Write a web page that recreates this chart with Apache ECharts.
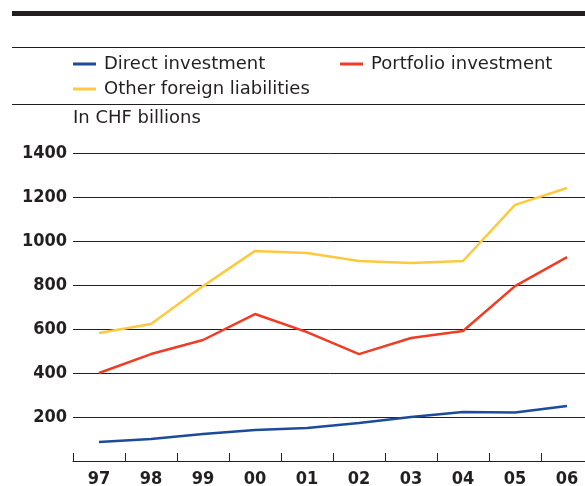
<!DOCTYPE html>
<html>
<head>
<meta charset="utf-8">
<script src="https://cdn.jsdelivr.net/npm/echarts@6/dist/echarts.min.js"></script>
<style>
  html, body { margin: 0; padding: 0; background: #fff; }
  #main { width: 585px; height: 486px; }
</style>
</head>
<body>
<div id="main"></div>
<script>
var years = ['97', '98', '99', '00', '01', '02', '03', '04', '05', '06'];
var direct = [86, 100, 123, 141, 150, 173, 200, 223, 220, 250];
var portfolio = [400, 486, 550, 668, 586, 486, 559, 591, 795, 927];
var other = [582, 623, 795, 955, 945, 909, 900, 909, 1164, 1241];

var font = '"DejaVu Sans Condensed", "DejaVu Sans", sans-serif';
var textFont = '"DejaVu Sans", sans-serif';
var myChart = echarts.init(document.getElementById('main'));

function legendAt(name, left, top) {
  return {
    data: [name],
    left: left,
    top: top,
    icon: 'rect',
    itemWidth: 23,
    itemHeight: 3,
    itemGap: 0,
    padding: 0,
    textStyle: { fontFamily: textFont, fontSize: 18, color: '#231f20', padding: [0, 0, 0, 3] },
    selectedMode: false
  };
}

var option = {
  animation: false,
  textStyle: { fontFamily: font },
  legend: [
    legendAt('Direct investment', 73, 55),
    legendAt('Portfolio investment', 340, 55),
    legendAt('Other foreign liabilities', 73, 80)
  ],
  graphic: [
    { type: 'rect', shape: { x: 12, y: 11, width: 580, height: 5 }, style: { fill: '#231f20' } },
    { type: 'rect', shape: { x: 12, y: 47, width: 580, height: 1 }, style: { fill: '#231f20' } },
    { type: 'rect', shape: { x: 12, y: 104, width: 580, height: 1 }, style: { fill: '#231f20' } },
    { type: 'text', left: 73, top: 109, style: { text: 'In CHF billions', font: '18px ' + textFont, fill: '#231f20' } }
  ],
  grid: { left: 73, width: 520, top: 153, height: 308, containLabel: false, outerBoundsMode: 'none' },
  xAxis: {
    type: 'category',
    data: years,
    boundaryGap: true,
    axisLine: { lineStyle: { color: '#231f20', width: 1 } },
    axisTick: { show: true, inside: true, length: 8, alignWithLabel: false, lineStyle: { color: '#231f20', width: 1 } },
    axisLabel: { fontFamily: font, fontSize: 18, fontWeight: 'bold', color: '#231f20', margin: 9 }
  },
  yAxis: {
    type: 'value',
    min: 0,
    max: 1400,
    interval: 200,
    axisLine: { show: false },
    axisTick: { show: false },
    axisLabel: {
      showMinLabel: false,
      formatter: function (v) { return String(v); },
      fontFamily: font, fontSize: 18, fontWeight: 'bold', color: '#231f20', margin: 6
    },
    splitLine: { lineStyle: { color: '#231f20', width: 1 } }
  },
  series: [
    { name: 'Direct investment', type: 'line', data: direct, symbol: 'none', color: '#1d4b9b', lineStyle: { width: 2.5 } },
    { name: 'Portfolio investment', type: 'line', data: portfolio, symbol: 'none', color: '#f13b22', lineStyle: { width: 2.5 } },
    { name: 'Other foreign liabilities', type: 'line', data: other, symbol: 'none', color: '#fec93e', lineStyle: { width: 2.5 } }
  ]
};

myChart.setOption(option);
</script>
</body>
</html>
